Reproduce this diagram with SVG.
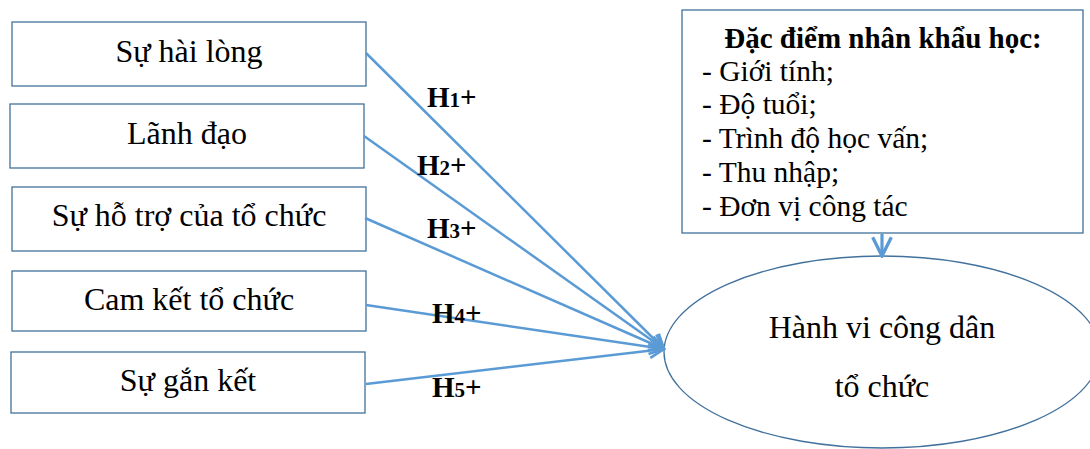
<svg xmlns="http://www.w3.org/2000/svg" width="1090" height="449" viewBox="0 0 1090 449">
<defs>
<style>
.box{fill:#fff;stroke:#41719C;stroke-width:1.3}
.t{font-family:"Liberation Serif","Times New Roman",serif;font-size:32px;fill:#000}
.l{font-family:"Liberation Serif","Times New Roman",serif;font-size:29.5px;fill:#000}
.h{font-family:"Liberation Serif","Times New Roman",serif;font-size:29px;font-weight:bold;fill:#000}
.s{font-size:21px}
.c{stroke:#5B9BD5;stroke-width:2.5;fill:none}
</style>
<marker id="arr" viewBox="0 0 12 12" refX="11" refY="6" markerWidth="7" markerHeight="7" markerUnits="strokeWidth" orient="auto">
<path d="M1,1 L11,6 L1,11" fill="none" stroke="#5B9BD5" stroke-width="1.8"/>
</marker>
</defs>
<g id="n1"><rect class="box" x="12" y="22" width="354" height="64"/><text class="t" x="189" y="62" text-anchor="middle">Sự hài lòng</text></g>
<g id="n2"><rect class="box" x="10" y="104" width="354" height="64"/><text class="t" x="187" y="144" text-anchor="middle">Lãnh đạo</text></g>
<g id="n3"><rect class="box" x="12" y="187" width="354" height="64"/><text class="t" x="189" y="226" text-anchor="middle">Sự hỗ trợ của tổ chức</text></g>
<g id="n4"><rect class="box" x="12" y="271" width="354" height="60"/><text class="t" x="189" y="310" text-anchor="middle">Cam kết tổ chức</text></g>
<g id="n5"><rect class="box" x="11" y="352" width="354" height="61"/><text class="t" x="188" y="391" text-anchor="middle">Sự gắn kết</text></g>
<g id="demo"><rect class="box" x="682" y="10" width="401" height="223"/>
<text class="h" x="883" y="48" text-anchor="middle">Đặc điểm nhân khẩu học:</text>
<text class="l" x="702" y="81">- Giới tính;</text>
<text class="l" x="702" y="114">- Độ tuổi;</text>
<text class="l" x="702" y="148">- Trình độ học vấn;</text>
<text class="l" x="702" y="182">- Thu nhập;</text>
<text class="l" x="702" y="216">- Đơn vị công tác</text>
</g>
<g id="out"><ellipse cx="882" cy="352" rx="218" ry="96" fill="#fff" stroke="#41719C" stroke-width="1.3"/>
<text class="t" x="882" y="338" text-anchor="middle">Hành vi công dân</text>
<text class="t" x="882" y="397" text-anchor="middle">tổ chức</text>
</g>
<g id="connectors">
<line class="c" x1="366" y1="53" x2="664" y2="349" marker-end="url(#arr)"/>
<line class="c" x1="364" y1="136" x2="664" y2="349" marker-end="url(#arr)"/>
<line class="c" x1="365" y1="218" x2="664" y2="349" marker-end="url(#arr)"/>
<line class="c" x1="366" y1="305" x2="664" y2="349" marker-end="url(#arr)"/>
<line class="c" x1="366" y1="384" x2="664" y2="349" marker-end="url(#arr)"/>
<line class="c" x1="882" y1="234" x2="882" y2="256" marker-end="url(#arr)" style="stroke-width:3.2"/>
<text class="h" x="427" y="107">H<tspan class="s">1</tspan>+</text>
<text class="h" x="417" y="175">H<tspan class="s">2</tspan>+</text>
<text class="h" x="427" y="238">H<tspan class="s">3</tspan>+</text>
<text class="h" x="432" y="323">H<tspan class="s">4</tspan>+</text>
<text class="h" x="432" y="397">H<tspan class="s">5</tspan>+</text>
</g>
</svg>
